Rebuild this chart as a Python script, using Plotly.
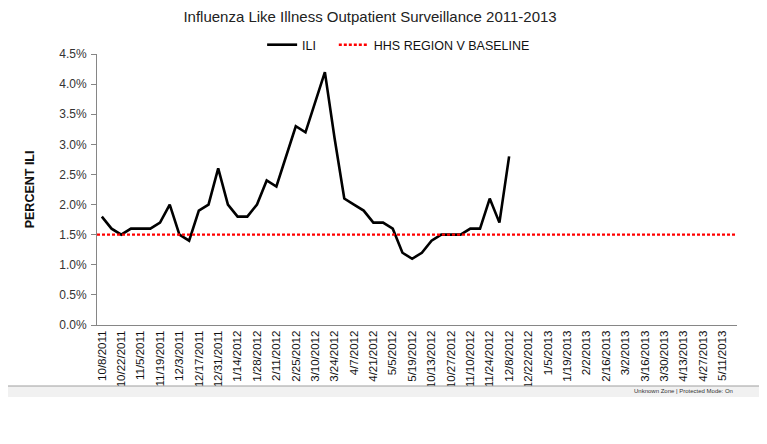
import plotly.graph_objects as go

# ---- data ----
week_dates = [
    "10/8/2011", "10/15/2011", "10/22/2011", "10/29/2011", "11/5/2011", "11/12/2011",
    "11/19/2011", "11/26/2011", "12/3/2011", "12/10/2011", "12/17/2011", "12/24/2011",
    "12/31/2011", "1/7/2012", "1/14/2012", "1/21/2012", "1/28/2012", "2/4/2012",
    "2/11/2012", "2/18/2012", "2/25/2012", "3/3/2012", "3/10/2012", "3/17/2012",
    "3/24/2012", "3/31/2012", "4/7/2012", "4/14/2012", "4/21/2012", "4/28/2012",
    "5/5/2012", "5/12/2012", "5/19/2012",
    "10/6/2012", "10/13/2012", "10/20/2012", "10/27/2012", "11/3/2012", "11/10/2012",
    "11/17/2012", "11/24/2012", "12/1/2012", "12/8/2012", "12/15/2012", "12/22/2012",
    "12/29/2012", "1/5/2013", "1/12/2013", "1/19/2013", "1/26/2013", "2/2/2013",
    "2/9/2013", "2/16/2013", "2/23/2013", "3/2/2013", "3/9/2013", "3/16/2013",
    "3/23/2013", "3/30/2013", "4/6/2013", "4/13/2013", "4/20/2013", "4/27/2013",
    "5/4/2013", "5/11/2013", "5/18/2013",
]

ili_values = [
    1.8, 1.6, 1.5, 1.6, 1.6, 1.6, 1.7, 2.0, 1.5, 1.4, 1.9, 2.0, 2.6, 2.0, 1.8, 1.8,
    2.0, 2.4, 2.3, 2.8, 3.3, 3.2, 3.7, 4.2, 3.1, 2.1, 2.0, 1.9, 1.7, 1.7, 1.6, 1.2,
    1.1, 1.2, 1.4, 1.5, 1.5, 1.5, 1.6, 1.6, 2.1, 1.7, 2.8,
]

baseline_value = 1.5

y_ticks = [0.0, 0.5, 1.0, 1.5, 2.0, 2.5, 3.0, 3.5, 4.0, 4.5]

# ---- derived ----
n = len(week_dates)
x_idx = list(range(n))
ili_full = ili_values + [None] * (n - len(ili_values))
tick_idx = x_idx[::2]
tick_text = week_dates[::2]
y_tick_text = [f"{v:.1f}%" for v in y_ticks]

FONT = "Liberation Sans, Arial, sans-serif"

fig = go.Figure()
fig.add_trace(go.Scatter(
    x=x_idx, y=ili_full, mode="lines", name="ILI", legend="legend",
    line=dict(color="black", width=2.6), connectgaps=False,
))
fig.add_trace(go.Scatter(
    x=[-0.5, n - 0.5], y=[baseline_value, baseline_value], mode="lines",
    name="HHS REGION V BASELINE", legend="legend2",
    line=dict(color="#ff0000", width=2.4, dash="3px,2px"),
))

legend_common = dict(
    orientation="h", xanchor="left", y=1.033, yanchor="middle",
    font=dict(family=FONT, size=12.5, color="#111111"),
    bgcolor="rgba(0,0,0,0)", itemwidth=30,
)

fig.update_layout(
    width=759, height=436,
    margin=dict(l=89, r=30, t=46, b=119),
    paper_bgcolor="white", plot_bgcolor="white",
    font=dict(family=FONT, size=11, color="#222222"),
    title=dict(
        text="Influenza Like Illness Outpatient Surveillance 2011-2013",
        x=0.477, xanchor="center", y=0.979, yanchor="middle",
        font=dict(family=FONT, size=15, color="#222222"),
    ),
    showlegend=True,
    legend=dict(x=0.258, **legend_common),
    legend2=dict(x=0.370, **legend_common),
    xaxis=dict(
        range=[-0.5, n - 0.5], tickmode="array", tickvals=tick_idx, ticktext=tick_text,
        tickangle=-90, showgrid=False, zeroline=False, showline=True,
        linecolor="#868686", linewidth=1, ticks="", ticklabelstandoff=0,
        tickfont=dict(family=FONT, size=11.5, color="#111111"),
    ),
    yaxis=dict(
        range=[0, 4.5], tickmode="array", tickvals=y_ticks, ticktext=y_tick_text,
        showgrid=False, zeroline=False,
        showline=True, linecolor="#868686", linewidth=1,
        ticks="outside", ticklen=5, tickcolor="#868686", ticklabelstandoff=2,
        tickfont=dict(family=FONT, size=12, color="#333333"),
    ),
    annotations=[
        dict(text="<b>PERCENT ILI</b>", xref="paper", yref="paper",
             x=-0.105, y=0.5, xanchor="center", yanchor="middle",
             textangle=-90, showarrow=False,
             font=dict(family=FONT, size=12.5, color="#111111")),
        dict(text="Unknown Zone | Protected Mode: On", xref="paper", yref="paper",
             x=0.836, y=-0.245, xanchor="left", yanchor="middle", showarrow=False,
             font=dict(family=FONT, size=6, color="#333333")),
    ],
    shapes=[
        dict(type="rect", xref="paper", yref="paper", x0=-0.16, x1=1.06,
             y0=-0.266, y1=-0.225, fillcolor="#f1f1f1", line=dict(width=0),
             layer="above"),
        dict(type="line", xref="paper", yref="paper", x0=-0.16, x1=1.06,
             y0=-0.225, y1=-0.225, line=dict(color="#a0a0a0", width=1.2),
             layer="above"),
        dict(type="rect", xref="paper", yref="paper", x0=-0.16, x1=1.06,
             y0=-0.44, y1=-0.266, fillcolor="white", line=dict(width=0),
             layer="above"),
    ],
)

fig.write_html("out.html")
